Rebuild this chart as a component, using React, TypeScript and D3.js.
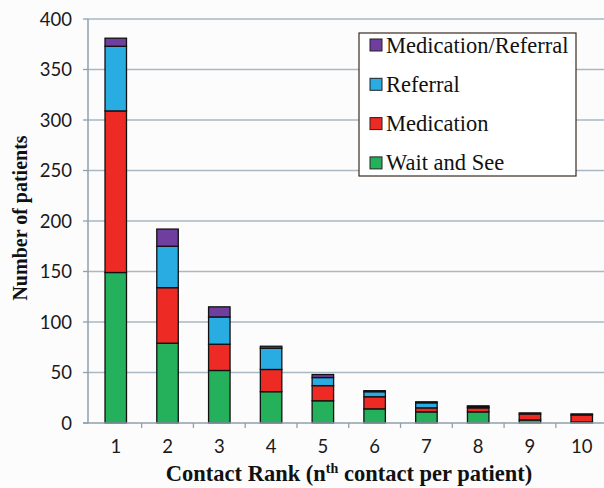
import * as d3 from 'd3';
import { useEffect, useRef } from 'react';

const ranks = ['1', '2', '3', '4', '5', '6', '7', '8', '9', '10'];
const waitAndSee = [149, 79, 52, 31, 22, 14, 11, 11, 3, 1];
const medication = [160, 55, 26, 22, 15, 12, 4, 4, 6, 7];
const referral = [64, 41, 27, 21, 8, 5, 5, 1, 0, 0];
const medRef = [8, 17, 10, 2, 3, 1, 1, 1, 1, 1];
const yTicks = [0, 50, 100, 150, 200, 250, 300, 350, 400];

const seriesNames = ['Wait and See', 'Medication', 'Referral', 'Medication/Referral'];
const seriesColors = ['#25b15b', '#ee2a25', '#28ace2', '#6f3e9e'];

const App = () => {
    const ref = useRef<SVGSVGElement>(null);

    useEffect(() => {
        const width = 604;
        const height = 488;
        const svg: any = d3.select(ref.current);
        svg.selectAll('*').remove();

        svg.append('rect')
            .attr('x', 0).attr('y', 0)
            .attr('width', width).attr('height', height)
            .attr('fill', '#fcfcfd');

        const x: any = d3.scaleBand()
            .domain(ranks)
            .range([90, 607.5])
            .paddingInner(0.585)
            .paddingOuter(0.29);
        const y: any = d3.scaleLinear().domain([0, 400]).range([423, 19]);

        // gridlines
        svg.append('g')
            .selectAll('line')
            .data(yTicks.slice(1))
            .enter()
            .append('line')
            .attr('x1', 88).attr('x2', width)
            .attr('y1', (d: any) => y(d)).attr('y2', (d: any) => y(d))
            .attr('stroke', '#a9b8c2')
            .attr('stroke-width', 1.3);

        // stacked data
        const table = ranks.map((r, i) => ({
            rank: r,
            'Wait and See': waitAndSee[i],
            'Medication': medication[i],
            'Referral': referral[i],
            'Medication/Referral': medRef[i],
        }));
        const stack: any = d3.stack().keys(seriesNames);
        const layers = stack(table);

        svg.append('g')
            .selectAll('g')
            .data(layers)
            .enter()
            .append('g')
            .attr('fill', (d: any, i: number) => seriesColors[i])
            .selectAll('rect')
            .data((d: any) => d.filter((s: any) => s[1] > s[0]))
            .enter()
            .append('rect')
            .attr('x', (d: any) => x(d.data.rank))
            .attr('width', x.bandwidth())
            .attr('y', (d: any) => y(d[1]))
            .attr('height', (d: any) => y(d[0]) - y(d[1]))
            .attr('stroke', '#111')
            .attr('stroke-width', 1.3);

        // axes
        const axisColor = '#8fa1ad';
        svg.append('line')
            .attr('x1', 88).attr('x2', 88).attr('y1', 19).attr('y2', 423)
            .attr('stroke', axisColor).attr('stroke-width', 1.5);
        svg.append('line')
            .attr('x1', 83).attr('x2', width).attr('y1', 423).attr('y2', 423)
            .attr('stroke', axisColor).attr('stroke-width', 1.5);

        svg.append('g')
            .selectAll('line')
            .data(yTicks)
            .enter()
            .append('line')
            .attr('x1', 83).attr('x2', 88)
            .attr('y1', (d: any) => y(d)).attr('y2', (d: any) => y(d))
            .attr('stroke', axisColor).attr('stroke-width', 1.3);

        svg.append('g')
            .selectAll('text')
            .data(yTicks)
            .enter()
            .append('text')
            .attr('x', 72)
            .attr('y', (d: any) => y(d) + 6.5)
            .attr('text-anchor', 'end')
            .style('font-family', 'Lato, sans-serif')
            .style('font-size', '18.5px')
            .style('fill', '#1a1a1a')
            .text((d: any) => d);

        // category boundary ticks
        const step = x.step();
        svg.append('g')
            .selectAll('line')
            .data(ranks.slice(1))
            .enter()
            .append('line')
            .attr('x1', (d: any) => x(d) - (step - x.bandwidth()) / 2)
            .attr('x2', (d: any) => x(d) - (step - x.bandwidth()) / 2)
            .attr('y1', 423).attr('y2', 428)
            .attr('stroke', axisColor).attr('stroke-width', 1.3);

        svg.append('g')
            .selectAll('text')
            .data(ranks)
            .enter()
            .append('text')
            .attr('x', (d: any) => x(d) + x.bandwidth() / 2)
            .attr('y', 453)
            .attr('text-anchor', 'middle')
            .style('font-family', 'Lato, sans-serif')
            .style('font-size', '18.5px')
            .style('fill', '#1a1a1a')
            .text((d: any) => d);

        // axis titles
        const xTitle = svg.append('text')
            .attr('x', 349)
            .attr('y', 481)
            .attr('text-anchor', 'middle')
            .style('font-family', '"Liberation Serif", serif')
            .style('font-weight', 700)
            .style('font-size', '22.5px')
            .style('fill', '#111');
        xTitle.append('tspan').text('Contact Rank (n');
        xTitle.append('tspan').attr('dy', -8).style('font-size', '14px').text('th');
        xTitle.append('tspan').attr('dy', 8).text(' contact per patient)');

        svg.append('text')
            .attr('transform', 'translate(27,218) rotate(-90)')
            .attr('text-anchor', 'middle')
            .style('font-family', '"Liberation Serif", serif')
            .style('font-weight', 700)
            .style('font-size', '20px')
            .style('fill', '#111')
            .text('Number of patients');

        // legend
        const legend = svg.append('g');
        legend.append('rect')
            .attr('x', 359).attr('y', 33)
            .attr('width', 217).attr('height', 143)
            .attr('fill', '#fff')
            .attr('stroke', '#3a2a22')
            .attr('stroke-width', 1.2);

        const legendItems = seriesNames.map((n, i) => ({ name: n, color: seriesColors[i] })).reverse();
        const rows = legend.selectAll('.legend-row')
            .data(legendItems)
            .enter()
            .append('g')
            .attr('class', 'legend-row')
            .attr('transform', (d: any, i: number) => `translate(0,${45 + i * 39.3})`);
        rows.append('rect')
            .attr('x', 370).attr('y', -6)
            .attr('width', 12).attr('height', 12)
            .attr('fill', (d: any) => d.color)
            .attr('stroke', '#222')
            .attr('stroke-width', 1);
        rows.append('text')
            .attr('x', 386)
            .attr('y', 7.5)
            .style('font-family', '"Liberation Serif", serif')
            .style('font-size', '22.5px')
            .style('fill', '#111')
            .text((d: any) => d.name);
    }, []);

    return (
        <svg ref={ref} width={604} height={488} style={{ position: 'absolute', left: 0, top: 0 }} />
    );
};

export default App;
